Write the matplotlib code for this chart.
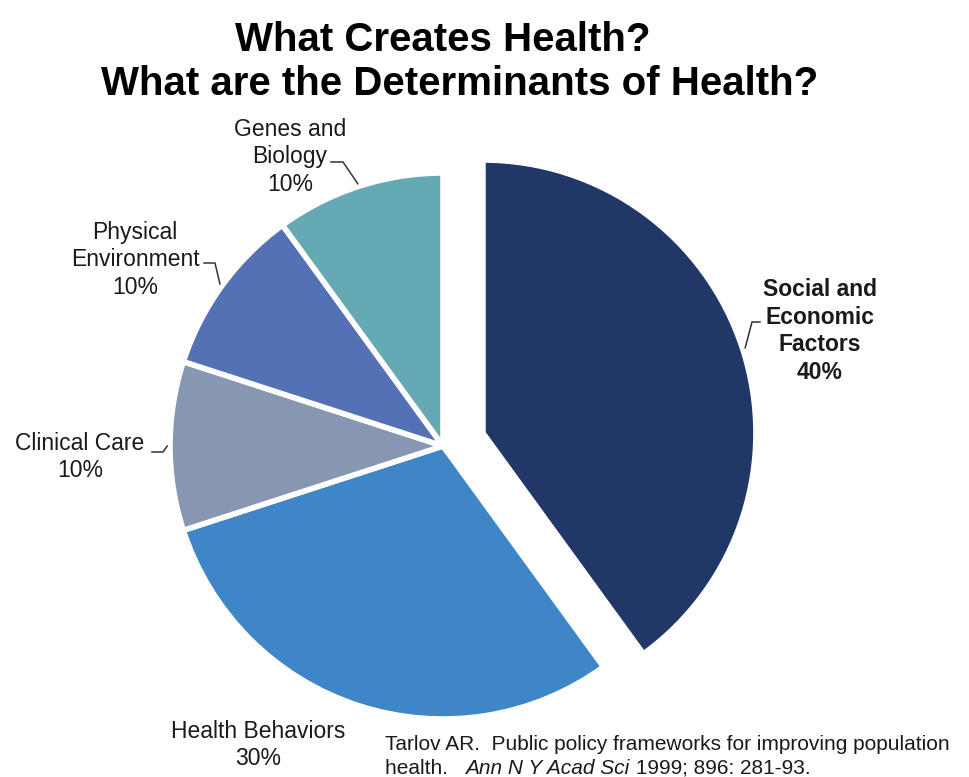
import numpy as np
import matplotlib.pyplot as plt

W, H = 969, 777

labels = ['Social and\nEconomic\nFactors', 'Health Behaviors', 'Clinical Care',
          'Physical\nEnvironment', 'Genes and\nBiology']
values = [40, 30, 10, 10, 10]
colors = ['#213767', '#3f86c8', '#8796b1', '#5571b6', '#65a9b5']

title1 = 'What Creates Health?'
title2 = 'What are the Determinants of Health?'
source1 = 'Tarlov AR.  Public policy frameworks for improving population'
source2a = 'health.   '
source2b = 'Ann N Y Acad Sci'
source2c = ' 1999; 896: 281-93.'


def Y(py):
    # pixel row (top down) -> data y
    return H - py


fig = plt.figure(figsize=(W / 100, H / 100), dpi=100)
ax = fig.add_axes([0, 0, 1, 1])

wedges, _ = ax.pie(values, colors=colors, startangle=90, counterclock=False,
                   explode=[42, 0, 0, 0, 0], radius=273, center=(443, Y(446)),
                   wedgeprops=dict(edgecolor='white', linewidth=4))
# pie sets its own limits, so fix them afterwards
ax.set_xlim(0, W)
ax.set_ylim(0, H)
ax.set_aspect('equal')
ax.axis('off')

font = ['Liberation Sans', 'DejaVu Sans']

# label text centre (pixels) and leader line: text end -> elbow (pixels)
spots = {
    0: dict(xy=(820, 331), leader=[(760, 322), (752, 322)], bold=True),
    1: dict(xy=(258, 745), leader=None, bold=False),
    2: dict(xy=(80, 457), leader=[(152, 452), (163, 452)], bold=False),
    3: dict(xy=(135, 260), leader=[(204, 263), (215, 263)], bold=False),
    4: dict(xy=(290, 157), leader=[(331, 162), (343, 162)], bold=False),
}

for i, w in enumerate(wedges):
    s = spots[i]
    txt = '%s\n%d%%' % (labels[i], values[i])
    ax.text(s['xy'][0], Y(s['xy'][1]), txt, ha='center', va='center',
            multialignment='center', fontsize=16.5, linespacing=1.25,
            fontweight='bold' if s['bold'] else 'normal',
            family=font, color='#1a1a1a')
    if s['leader'] is not None:
        th = np.deg2rad((w.theta1 + w.theta2) / 2)
        cx, cy = w.center
        ex, ey = cx + w.r * 1.01 * np.cos(th), cy + w.r * 1.01 * np.sin(th)
        (x0, y0), (x1, y1) = s['leader']
        ax.plot([x0, x1, ex], [Y(y0), Y(y1), ey], color='#333333', lw=1.1)

ax.text(443, Y(40), title1, ha='center', va='center', fontsize=29,
        fontweight='bold', family=font)
ax.text(460, Y(84), title2, ha='center', va='center', fontsize=29,
        fontweight='bold', family=font)

t1 = ax.text(385, Y(745), source1, ha='left', va='center', fontsize=15,
             family=font, color='#1a1a1a')
t2 = ax.text(385, Y(768), source2a, ha='left', va='center', fontsize=15,
             family=font, color='#1a1a1a')
t3 = ax.annotate(source2b, xy=(1, 0), xycoords=t2, ha='left', va='bottom',
                 fontsize=15, family=font, style='italic', color='#1a1a1a')
ax.annotate(source2c, xy=(1, 0), xycoords=t3, ha='left', va='bottom',
            fontsize=15, family=font, color='#1a1a1a')

fig.savefig('out.png', dpi=100)
